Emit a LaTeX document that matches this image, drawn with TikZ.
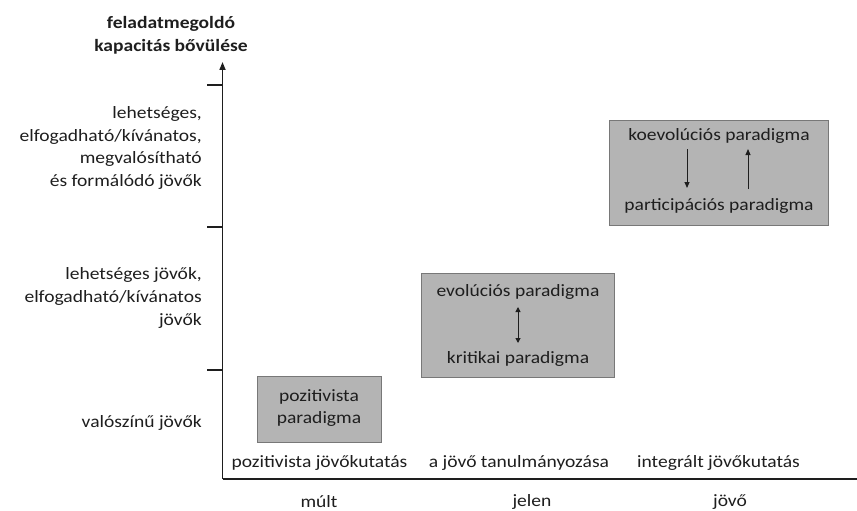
\documentclass[tikz,border=0pt]{standalone}
\usepackage{fontspec}
\setmainfont{Carlito}[FakeStretch=1.13]
\usetikzlibrary{arrows.meta}
\definecolor{boxfill}{RGB}{180,180,180}
\definecolor{boxline}{RGB}{120,120,120}
\definecolor{txt}{RGB}{30,30,30}
\begin{document}
\begin{tikzpicture}[x=1pt,y=-1pt,
  every node/.style={text=txt,font=\fontsize{17.3}{22.7}\selectfont,inner sep=0pt},
  pbox/.style={draw=boxline,fill=boxfill,line width=0.8pt,minimum width=#1},
  lbl/.style={align=right,anchor=east},
  axis/.style={line width=1.6pt,draw=txt},
  tick/.style={line width=1.2pt,draw=txt},
  inarrow/.style={line width=1pt,draw=txt}]
\useasboundingbox (0,0) rectangle (857,511);
% boxes
\node[pbox=124pt,minimum height=66pt] (b1) at (319,409) {};
\node[pbox=193pt,minimum height=104pt] (b2) at (517.5,325) {};
\node[pbox=219pt,minimum height=105pt] (b3) at (718.5,172.5) {};
% axes
\coordinate (O) at (222.5,479);
\coordinate (ytop) at (222.5,62);
\coordinate (xend) at (857,479);
\draw[axis,-{Triangle[length=8pt,width=6pt]}] (O) -- (ytop);
\draw[axis,line width=2pt] (O) -- (xend);
\coordinate (t1a) at (207,85);  \coordinate (t1b) at (222.5,85);
\coordinate (t2a) at (207,227); \coordinate (t2b) at (222.5,227);
\coordinate (t3a) at (207,370); \coordinate (t3b) at (222.5,370);
\draw[tick] (t1a) -- (t1b);
\draw[tick] (t2a) -- (t2b);
\draw[tick] (t3a) -- (t3b);
% title
\node[font=\fontsize{17.3}{23}\selectfont\bfseries,align=center] (title) at (171,35) {feladatmegoldó\\kapacitás bővülése};
% y labels
\node[lbl] (l1) at (202,148) {lehetséges,\\elfogadható/kívánatos,\\megvalósítható\\és formálódó jövők};
\node[lbl] (l2) at (202,298) {lehetséges jövők,\\elfogadható/kívánatos\\jövők};
\node[lbl] (l3) at (202,423) {valószínű jövők};
% box texts
\node[align=center] (pp) at (319,408) {pozitivista\\paradigma};
\node (evol) at (518,292) {evolúciós paradigma};
\node (krit) at (518,359) {kritikai paradigma};
\node (koev) at (719,136) {koevolúciós paradigma};
\node (part) at (719,206) {participációs paradigma};
% inner arrows
\coordinate (a1t) at (518,307); \coordinate (a1b) at (518,343);
\draw[inarrow,{Triangle[length=5pt,width=5pt]}-{Triangle[length=5pt,width=5pt]}] (a1t) -- (a1b);
\coordinate (a2t) at (687,149); \coordinate (a2b) at (687,188);
\draw[inarrow,-{Triangle[length=6pt,width=5pt]}] (a2t) -- (a2b);
\coordinate (a3t) at (748,149); \coordinate (a3b) at (748,189);
\draw[inarrow,-{Triangle[length=6pt,width=5pt]}] (a3b) -- (a3t);
% x labels
\node (x1) at (319.5,463) {pozitivista jövőkutatás};
\node (x2) at (519,463) {a jövő tanulmányozása};
\node (x3) at (718.5,463) {integrált jövőkutatás};
\node (m1) at (319,502) {múlt};
\node (m2) at (532,502) {jelen};
\node (m3) at (730,502) {jövő};
\end{tikzpicture}
\end{document}
